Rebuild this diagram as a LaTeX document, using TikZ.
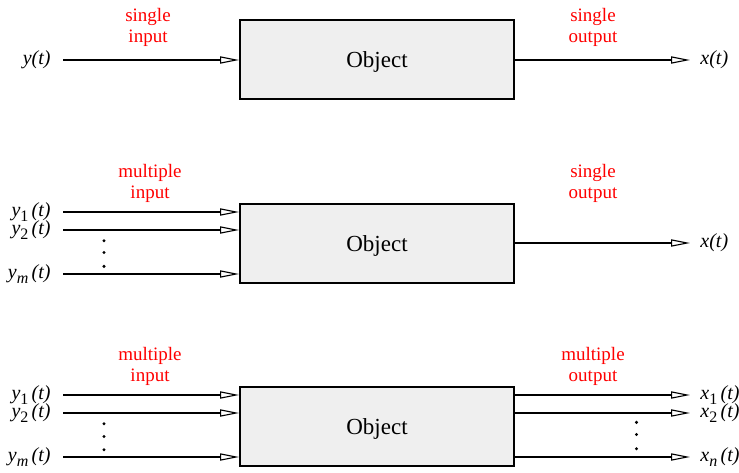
\documentclass[tikz,border=0pt]{standalone}
\usepackage{fontspec}
\setmainfont{Liberation Serif}
\usetikzlibrary{arrows.meta, positioning}
\definecolor{boxgray}{RGB}{239,239,239}
% signal label: letter, index
\newcommand{\signame}[2]{\textit{#1}\raisebox{-0.5ex}{\fontsize{8}{8}\selectfont #2}\,\textit{(t)}}
\begin{document}
\begin{tikzpicture}[x=0.5pt, y=-0.5pt,
        objbox/.style={draw, line width=1pt, fill=boxgray, minimum width=137pt, minimum height=39.5pt, inner sep=0pt, text depth=0pt, font=\fontsize{11.5}{13}\selectfont},
        sig/.style={line width=0.55pt, -{Triangle[open, length=9.5pt, width=3.6pt]}},
        siglabel/.style={inner sep=0pt, font=\fontsize{10}{12}\selectfont},
        note/.style={text=red, align=center, inner sep=0pt, font=\fontsize{9.5}{10.5}\selectfont}
    ]
    \useasboundingbox (0,0) rectangle (739,472);

    % single input, single output
    \node[objbox] (obj1) at (377,59.5) {Object};
    \coordinate (i1) at (63,60);
    \coordinate (o1) at (690,60);
    \node[siglabel, left=6pt of i1] (ly1) {\textit{y(t)}};
    \node[siglabel, right=5pt of o1] (lx1) {\textit{x(t)}};
    \draw[sig] (i1) -- (i1 -| obj1.west);
    \draw[sig] (obj1.east |- o1) -- (o1);
    \node[note] (n1a) at (148,27) {single\\input};
    \node[note] (n1b) at (593,27) {single\\output};

    % multiple input, single output
    \node[objbox] (obj2) at (377,243.5) {Object};
    \coordinate (i21) at (63,212);
    \coordinate (i22) at (63,230);
    \coordinate (i2m) at (63,274);
    \coordinate (o2) at (690,243);
    \node[siglabel, left=6pt of i21] (ly21) {\signame{y}{1}};
    \node[siglabel, left=6pt of i22] (ly22) {\signame{y}{2}};
    \node[siglabel, left=6pt of i2m] (ly2m) {\signame{y}{\textit{m}}};
    \node[siglabel, right=5pt of o2] (lx2) {\textit{x(t)}};
    \draw[sig] (i21) -- (i21 -| obj2.west);
    \draw[sig] (i22) -- (i22 -| obj2.west);
    \draw[sig] (i2m) -- (i2m -| obj2.west);
    \draw[sig] (obj2.east |- o2) -- (o2);
    \foreach \y in {240.7,252.5,266.3}
        \fill (104,\y) circle (1.7);
    \node[note] (n2a) at (150,183) {multiple\\input};
    \node[note] (n2b) at (593,183) {single\\output};

    % multiple input, multiple output
    \node[objbox] (obj3) at (377,426.5) {Object};
    \coordinate (i31) at (63,395);
    \coordinate (i32) at (63,413);
    \coordinate (i3m) at (63,457);
    \coordinate (o31) at (690,395);
    \coordinate (o32) at (690,413);
    \coordinate (o3n) at (690,457);
    \node[siglabel, left=6pt of i31] (ly31) {\signame{y}{1}};
    \node[siglabel, left=6pt of i32] (ly32) {\signame{y}{2}};
    \node[siglabel, left=6pt of i3m] (ly3m) {\signame{y}{\textit{m}}};
    \node[siglabel, right=5pt of o31] (lx31) {\signame{x}{1}};
    \node[siglabel, right=5pt of o32] (lx32) {\signame{x}{2}};
    \node[siglabel, right=5pt of o3n] (lx3n) {\signame{x}{\textit{n}}};
    \draw[sig] (i31) -- (i31 -| obj3.west);
    \draw[sig] (i32) -- (i32 -| obj3.west);
    \draw[sig] (i3m) -- (i3m -| obj3.west);
    \draw[sig] (obj3.east |- o31) -- (o31);
    \draw[sig] (obj3.east |- o32) -- (o32);
    \draw[sig] (obj3.east |- o3n) -- (o3n);
    \foreach \y in {423.7,436.5,449.7}
        \fill (104,\y) circle (1.7);
    \foreach \y in {422.3,434.5,448.7}
        \fill (636.5,\y) circle (1.7);
    \node[note] (n3a) at (150,366) {multiple\\input};
    \node[note] (n3b) at (593,366) {multiple\\output};
\end{tikzpicture}
\end{document}
